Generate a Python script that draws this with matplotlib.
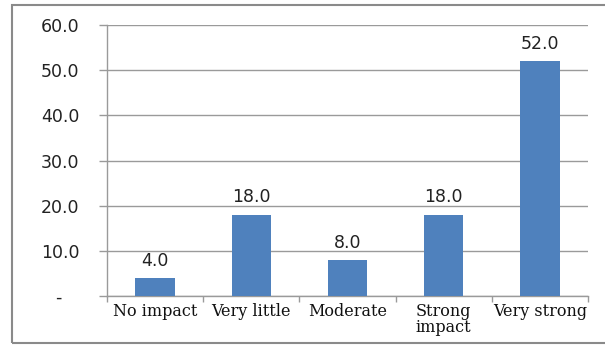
import matplotlib.pyplot as plt
from matplotlib.patches import Rectangle
from matplotlib.ticker import FixedLocator, NullFormatter

# Chart data
categories = ["No impact", "Very little", "Moderate", "Strong\nimpact", "Very strong"]
values = [4.0, 18.0, 8.0, 18.0, 52.0]
y_ticks = [0, 10, 20, 30, 40, 50, 60]
y_tick_labels = ["-   ", "10.0", "20.0", "30.0", "40.0", "50.0", "60.0"]

bar_color = "#4F81BD"
grid_color = "#9A9A9A"

fig = plt.figure(figsize=(6.05, 3.45), dpi=100)
ax = fig.add_axes([107 / 605, 1 - 296 / 345, (588 - 107) / 605, (296 - 25) / 345])

x = list(range(len(categories)))
bars = ax.bar(x, values, width=0.41, color=bar_color, zorder=3)

ax.set_xlim(-0.5, len(categories) - 0.5)
ax.set_ylim(0, 60)

# y axis: gridlines + accounting style labels
ax.set_yticks(y_ticks)
ax.set_yticklabels(y_tick_labels, fontsize=12.5, family="DejaVu Sans", color="#222222")
ax.yaxis.grid(True, color=grid_color, linewidth=1.0, zorder=0)
ax.tick_params(axis="y", length=6, width=1, color=grid_color, pad=14)

# x axis: ticks between categories, labels centered
ax.xaxis.set_major_locator(FixedLocator([i - 0.5 for i in range(len(categories) + 1)]))
ax.xaxis.set_major_formatter(NullFormatter())
ax.xaxis.set_minor_locator(FixedLocator(x))
ax.set_xticklabels(categories, minor=True, fontsize=11.5, family="DejaVu Serif",
                   linespacing=0.9, color="#111111")
ax.tick_params(axis="x", which="major", length=4, width=1, color=grid_color, direction="out")
ax.tick_params(axis="x", which="minor", length=0, pad=5)

for side in ["top", "right"]:
    ax.spines[side].set_visible(False)
for side in ["left", "bottom"]:
    ax.spines[side].set_color(grid_color)
    ax.spines[side].set_linewidth(1.0)

# data labels
for b, v in zip(bars, values):
    ax.annotate(f"{v:.1f}", (b.get_x() + b.get_width() / 2, v),
                xytext=(0, 6), textcoords="offset points",
                ha="center", va="bottom", fontsize=12.5, family="DejaVu Sans", color="#222222")

# outer chart frame (right side runs off the image)
fig.patches.append(Rectangle((12 / 605, 1 - 343 / 345), 1.2, (343 - 5) / 345,
                             transform=fig.transFigure, fill=False,
                             edgecolor="#8A8A8A", linewidth=1.5))

fig.savefig("out.png", dpi=100)
